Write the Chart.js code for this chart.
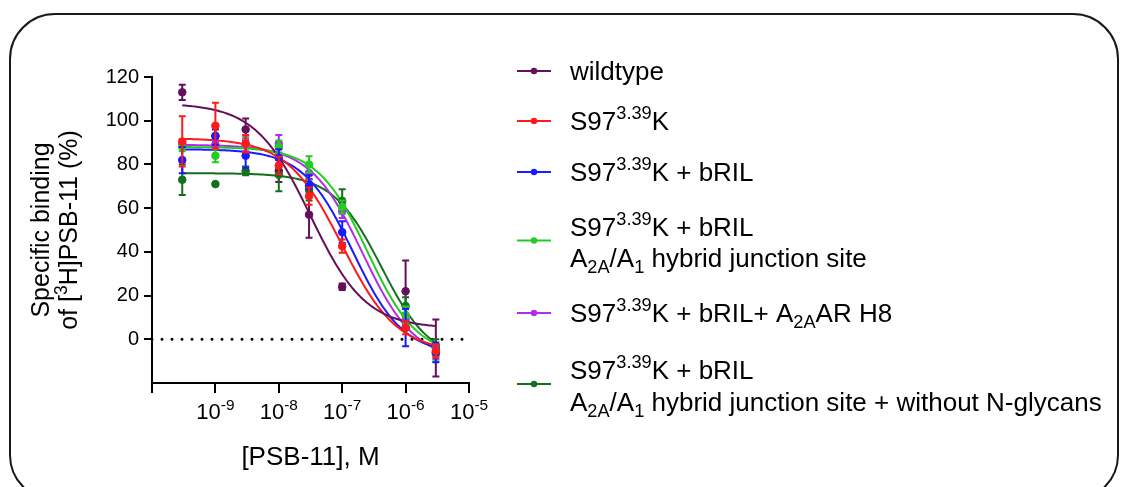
<!DOCTYPE html>
<html>
<head>
<meta charset="utf-8">
<script src="https://cdn.jsdelivr.net/npm/chart.js@4"></script>
<style>
  html, body { margin: 0; padding: 0; background: #fff; }
  canvas { display: block; }
</style>
</head>
<body>
<canvas id="chart" width="1123" height="487"></canvas>
<script>
// [PSB-11] concentrations tested (M)
const concentrations = [3e-10, 1e-9, 3e-9, 1e-8, 3e-8, 1e-7, 1e-6, 3e-6];

// x-axis decades and their labels (^{..} = superscript)
const xTickValues = [1e-10, 1e-9, 1e-8, 1e-7, 1e-6, 1e-5];
const xTickLabels = ['', '10^{-9}', '10^{-8}', '10^{-7}', '10^{-6}', '10^{-5}'];
const yTickValues = [0, 20, 40, 60, 80, 100, 120];

// Series names (_{..} = subscript), one entry per text line
const seriesLabels = [
  ['wildtype'],
  ['S97^{3.39}K'],
  ['S97^{3.39}K + bRIL'],
  ['S97^{3.39}K + bRIL', 'A_{2A}/A_{1} hybrid junction site'],
  ['S97^{3.39}K + bRIL+ A_{2A}AR H8'],
  ['S97^{3.39}K + bRIL', 'A_{2A}/A_{1} hybrid junction site + without N-glycans']
];
const seriesColors = ['#650f5d', '#ff1a1a', '#1a1aff', '#22cc22', '#b02ee8', '#13701d'];

// Specific binding (% of control), mean and SEM per concentration
const wildtypeMean = [113, 93, 96, 77, 57, 24, 22, -4];
const wildtypeSem  = [3.5, 3, 5, 5, 10.5, 1.5, 14, 13];
const s97kMean     = [90.5, 97.7, 89.5, 79.5, 65.5, 42.6, 5.3, -5.3];
const s97kSem      = [11.5, 10.5, 4, 4, 4, 3, 3, 3];
const brilMean     = [82, 93, 84, 83, 70, 49, 5.3, -6];
const brilSem      = [6, 4, 5.5, 4, 5, 5, 8.5, 4.5];
const hybridMean   = [88, 84, 89, 88, 80, 60.5, 11, -7];
const hybridSem    = [2, 3, 4, 3, 3.7, 3, 4, 3];
const h8Mean       = [89.5, 89, 89, 89.5, 76, 58.5, 9, -6];
const h8Sem        = [2, 2, 3, 4, 3, 3, 3, 3];
const noGlycMean   = [73, 71, 77, 75.3, 68.5, 63.3, 15.2, -3];
const noGlycSem    = [7, 0, 2, 7.6, 5, 5.3, 4, 3];

// One-site competition fits: top, bottom, logIC50, Hill slope
const fitTop     = [108, 92, 87, 88, 89, 76];
const fitBottom  = [5, -6, -7, -8, -10, -10];
const fitLogIC50 = [-7.5, -7.0, -6.83, -6.6, -6.68, -6.38];
const fitHill    = [1.0, 1.0, 1.1, 1.1, 1.05, 1.13];

const means = [wildtypeMean, s97kMean, brilMean, hybridMean, h8Mean, noGlycMean];
const sems  = [wildtypeSem, s97kSem, brilSem, hybridSem, h8Sem, noGlycSem];

const FONT = "'Liberation Sans', Arial, Helvetica, sans-serif";

// sigmoidal dose-response curve through the fitted parameters
function fitCurve(i) {
  const lo = Math.log10(concentrations[0]);
  const hi = Math.log10(concentrations[concentrations.length - 1]);
  const n = 160, pts = [];
  for (let k = 0; k <= n; k++) {
    const lx = lo + (hi - lo) * k / n;
    const y = fitBottom[i] + (fitTop[i] - fitBottom[i]) /
      (1 + Math.pow(10, (lx - fitLogIC50[i]) * fitHill[i]));
    pts.push({ x: Math.pow(10, lx), y });
  }
  return pts;
}

// ---- rich text with ^{sup} and _{sub} runs ----
function parseRich(s) {
  const parts = [];
  const re = /(\^\{[^}]*\}|_\{[^}]*\})/g;
  let last = 0, m;
  while ((m = re.exec(s))) {
    if (m.index > last) parts.push({ t: s.slice(last, m.index), k: 0 });
    parts.push({ t: m[0].slice(2, -1), k: m[0][0] === '^' ? 1 : -1 });
    last = re.lastIndex;
  }
  if (last < s.length) parts.push({ t: s.slice(last), k: 0 });
  return parts;
}
function runSize(size, k) { return k === 0 ? size : size * 0.7; }
function richWidth(ctx, parts, size) {
  let w = 0;
  for (const p of parts) {
    ctx.font = runSize(size, p.k) + 'px ' + FONT;
    w += ctx.measureText(p.t).width;
  }
  return w;
}
// y is the visual middle of the capitals
function drawRich(ctx, s, x, y, size, align) {
  const parts = parseRich(s);
  const w = richWidth(ctx, parts, size);
  let cx = align === 'center' ? x - w / 2 : (align === 'right' ? x - w : x);
  const base = y + size * 0.36;
  ctx.textBaseline = 'alphabetic';
  ctx.textAlign = 'left';
  for (const p of parts) {
    ctx.font = runSize(size, p.k) + 'px ' + FONT;
    const dy = p.k === 1 ? -size * 0.42 : (p.k === -1 ? size * 0.2 : 0);
    ctx.fillText(p.t, cx, base + dy);
    cx += ctx.measureText(p.t).width;
  }
}

// ---- datasets ----
const datasets = [];
seriesColors.forEach((c, i) => {
  datasets.push({
    data: fitCurve(i), showLine: true, borderColor: c, borderWidth: 2,
    pointRadius: 0, fill: false, tension: 0, order: 4
  });
});
seriesColors.forEach((c, i) => {
  datasets.push({
    data: concentrations.map((x, j) => ({ x, y: means[i][j] })),
    sem: sems[i], showLine: false, pointRadius: 3.8, pointHoverRadius: 3.8,
    pointBackgroundColor: c, pointBorderColor: c, pointBorderWidth: 1,
    errColor: c, order: i === 0 ? 2 : 1
  });
});
// dotted baseline at 0 %
datasets.push({
  data: [{ x: xTickValues[0], y: 0 }, { x: xTickValues[xTickValues.length - 1], y: 0 }],
  showLine: true, borderColor: '#000', borderWidth: 3, borderDash: [0, 10],
  borderCapStyle: 'round', pointRadius: 0, order: 5
});

const errorBars = {
  id: 'errorBars',
  beforeDatasetDraw(chart, args) {
    const ds = chart.data.datasets[args.index];
    if (!ds.sem) return;
    const ctx = chart.ctx, xs = chart.scales.x, ys = chart.scales.y;
    ctx.save();
    ctx.strokeStyle = ds.errColor;
    ctx.lineWidth = 2;
    ds.data.forEach((p, j) => {
      const e = ds.sem[j];
      if (!e) return;
      const px = xs.getPixelForValue(p.x);
      const yt = ys.getPixelForValue(p.y + e);
      const yb = ys.getPixelForValue(p.y - e);
      ctx.beginPath();
      ctx.moveTo(px, yt); ctx.lineTo(px, yb);
      ctx.moveTo(px - 3.5, yt); ctx.lineTo(px + 3.5, yt);
      ctx.moveTo(px - 3.5, yb); ctx.lineTo(px + 3.5, yb);
      ctx.stroke();
    });
    ctx.restore();
  }
};

const frame = {
  id: 'frame',
  beforeDraw(chart) {
    const ctx = chart.ctx;
    ctx.save();
    ctx.fillStyle = '#fff';
    ctx.fillRect(0, 0, chart.width, chart.height);
    ctx.strokeStyle = '#1a1a1a';
    ctx.lineWidth = 2;
    ctx.beginPath();
    ctx.roundRect(10, 14, 1108, 486, 45);
    ctx.stroke();
    ctx.restore();
  }
};

const texts = {
  id: 'texts',
  afterDraw(chart) {
    const ctx = chart.ctx, xs = chart.scales.x, area = chart.chartArea;
    ctx.save();
    ctx.fillStyle = '#000';
    // x tick labels
    xTickValues.forEach((v, i) => {
      if (xTickLabels[i]) drawRich(ctx, xTickLabels[i], xs.getPixelForValue(v), 411, 22, 'center');
    });
    // axis titles
    drawRich(ctx, '[PSB-11], M', (area.left + area.right) / 2, 456, 26, 'center');
    const yMid = (area.top + area.bottom) / 2;
    [['Specific binding', 40], ['of [^{3}H]PSB-11 (%)', 68]].forEach(([t, x]) => {
      ctx.save();
      ctx.translate(x, yMid);
      ctx.rotate(-Math.PI / 2);
      drawRich(ctx, t, 0, 0, 25, 'center');
      ctx.restore();
    });
    // legend
    const rows = [[71], [121], [172], [227, 258], [313], [370, 402]];
    seriesLabels.forEach((lines, i) => {
      const ys = rows[i];
      const my = ys.length > 1 ? (ys[0] + ys[1]) / 2 - 2 : ys[0];
      ctx.strokeStyle = seriesColors[i];
      ctx.lineWidth = 2;
      ctx.beginPath(); ctx.moveTo(517, my); ctx.lineTo(551, my); ctx.stroke();
      ctx.fillStyle = seriesColors[i];
      ctx.beginPath(); ctx.arc(534, my, 3.2, 0, Math.PI * 2); ctx.fill();
      ctx.fillStyle = '#000';
      lines.forEach((t, k) => drawRich(ctx, t, 570, ys[k], 26, 'left'));
    });
    ctx.restore();
  }
};

new Chart(document.getElementById('chart'), {
  type: 'scatter',
  data: { datasets },
  options: {
    responsive: false,
    devicePixelRatio: 1,
    animation: false,
    events: [],
    layout: { padding: { left: 0, top: 77, right: 1123 - 469, bottom: 0 } },
    plugins: { legend: { display: false }, tooltip: { enabled: false } },
    scales: {
      x: {
        type: 'logarithmic',
        min: xTickValues[0],
        max: xTickValues[xTickValues.length - 1],
        afterBuildTicks: s => { s.ticks = xTickValues.map(v => ({ value: v })); },
        afterFit: s => { s.height = 487 - 383; },
        ticks: { callback: () => '', autoSkip: false, maxRotation: 0 },
        grid: { drawOnChartArea: false, color: '#000', lineWidth: 2, tickLength: 10 },
        border: { color: '#000', width: 2 }
      },
      y: {
        min: -20, max: 120,
        afterBuildTicks: s => { s.ticks = yTickValues.map(v => ({ value: v })); },
        afterFit: s => { s.width = 152; },
        ticks: { color: '#000', font: { family: FONT, size: 20 }, padding: 5, autoSkip: false },
        grid: { drawOnChartArea: false, color: '#000', lineWidth: 2, tickLength: 8 },
        border: { color: '#000', width: 2 }
      }
    }
  },
  plugins: [frame, errorBars, texts]
});
</script>
</body>
</html>
